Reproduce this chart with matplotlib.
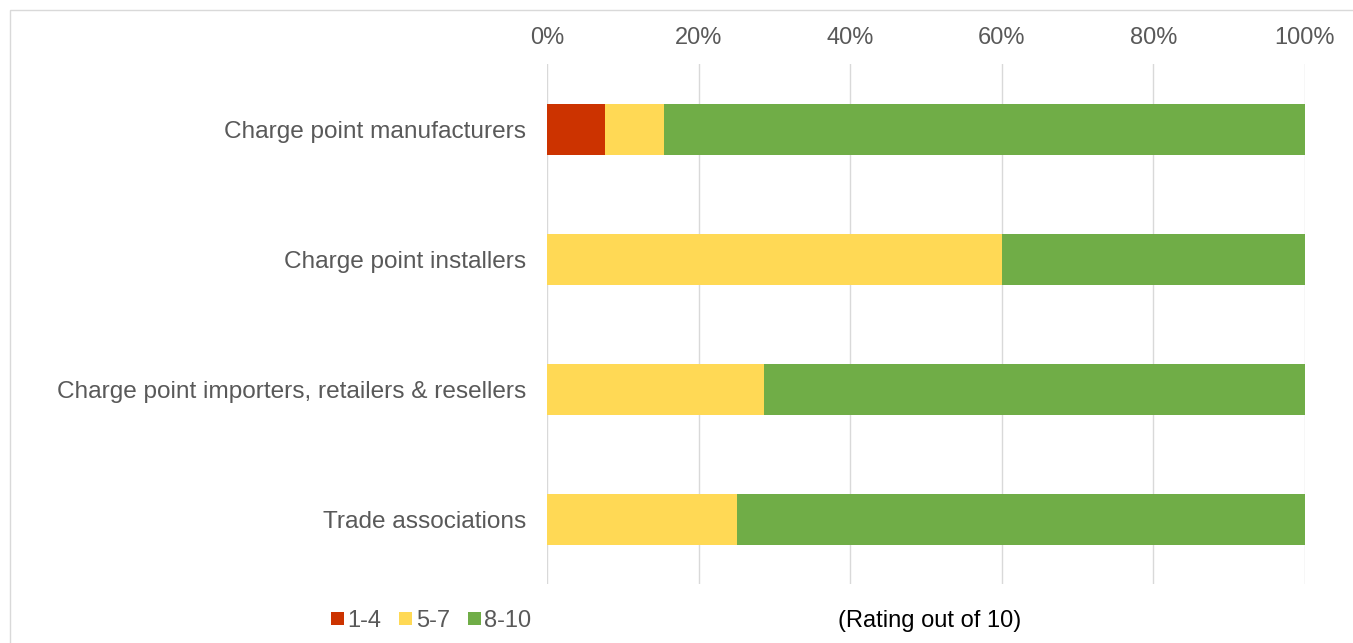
import matplotlib.pyplot as plt
import numpy as np
from matplotlib.patches import Rectangle

plt.rcParams['font.family'] = ['Liberation Sans', 'DejaVu Sans']

categories = ["Charge point manufacturers", "Charge point installers",
              "Charge point importers, retailers & resellers", "Trade associations"]
labels = ["1-4", "5-7", "8-10"]
low = [1/13, 0, 0, 0]
mid = [1/13, 0.60, 2/7, 0.25]
high = [11/13, 0.40, 5/7, 0.75]
colors = ["#CC3300", "#FFD955", "#70AD47"]

fig = plt.figure(figsize=(13.53, 6.43), dpi=100)
ax = fig.add_axes([0.4043, 0.0910, 0.5602, 0.8087])

y = np.arange(len(categories))
left = np.zeros(len(categories))
for vals, lab, col in zip([low, mid, high], labels, colors):
    ax.barh(y, vals, left=left, height=0.39, color=col, label=lab, zorder=3)
    left += np.array(vals)

ax.set_ylim(len(categories) - 0.5, -0.5)
ax.set_xlim(0, 1)
ax.set_yticks(y)
ax.set_yticklabels(categories)
ax.set_xticks(np.linspace(0, 1, 6))
ax.set_xticklabels([f"{int(v*100)}%" for v in np.linspace(0, 1, 6)])
ax.xaxis.tick_top()
ax.tick_params(axis='both', length=0, labelsize=17, labelcolor="#595959")
ax.tick_params(axis='y', labelsize=17.6, pad=15)
ax.tick_params(axis='x', pad=11)
ax.grid(axis='x', color="#D9D9D9", linewidth=1, zorder=0)
for s in ax.spines.values():
    s.set_visible(False)

leg = fig.legend(loc='center left', bbox_to_anchor=(331/1353, 1 - 621/643), ncol=3,
                 frameon=False, fontsize=17, handlelength=0.55, handleheight=0.5,
                 handletextpad=0.15, columnspacing=0.75, borderaxespad=0, borderpad=0)
for t in leg.get_texts():
    t.set_color("#595959")

fig.text(930/1353, 1 - 621/643, "(Rating out of 10)", ha='center', va='center',
         fontsize=17, color="#000000")

# thin frame around the chart area
fig.patches.append(Rectangle((10/1353, -0.01), 1.0, 1 - 10/643 + 0.01,
                             transform=fig.transFigure, fill=False,
                             edgecolor="#D9D9D9", linewidth=1))

fig.savefig("out.png", dpi=100)
